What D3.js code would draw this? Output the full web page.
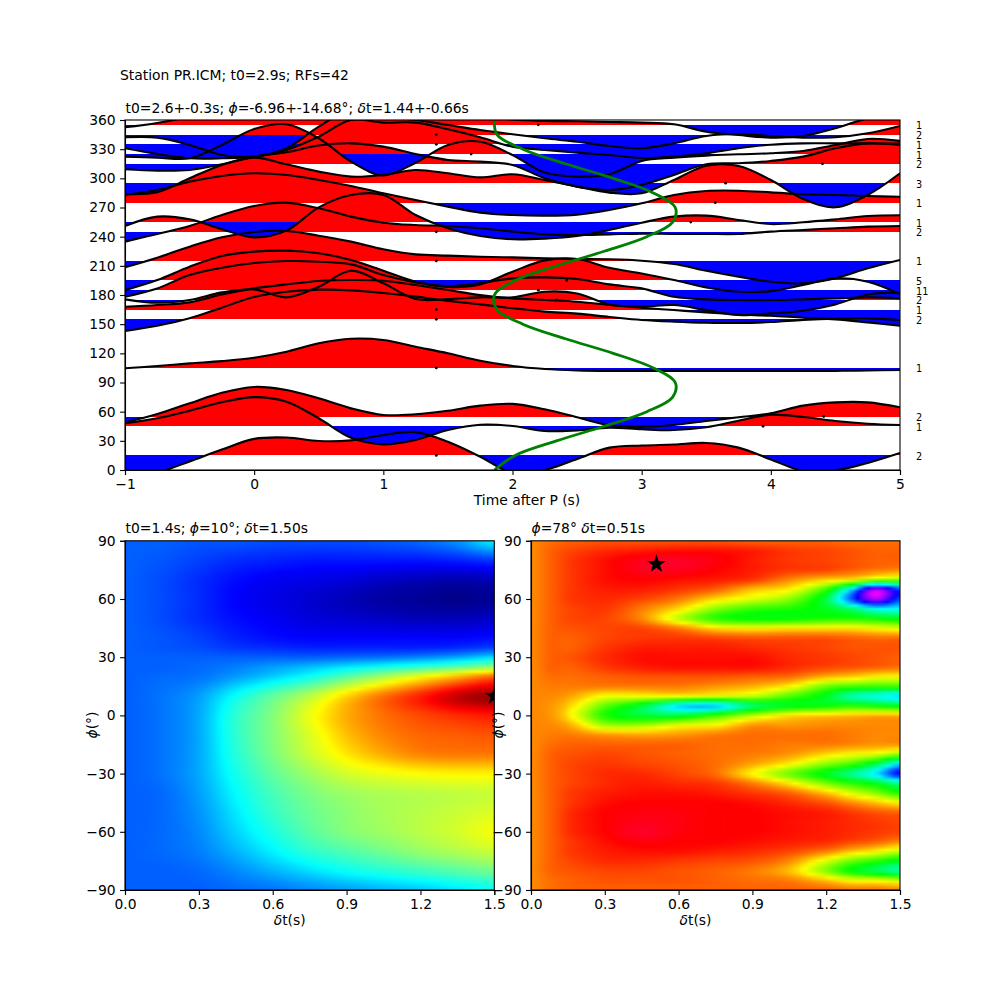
<!DOCTYPE html>
<html lang="en">
<head>
<meta charset="UTF-8">
<title>Station PR.ICM</title>
<style>
  html, body { margin: 0; padding: 0; background: #fff; }
  svg { display: block; }
  text { font-family: "DejaVu Sans", sans-serif; fill: #000; }
  .tick text { font-family: "DejaVu Sans", sans-serif; font-size: 13.89px; }
  .tick line, .domain { stroke: #000; stroke-width: 1.1px; }
</style>
</head>
<body>
<div id="chart"></div>
<script src="https://d3js.org/d3.v7.min.js"></script>
<script>
// ---- top panel data: RF traces, in degrees of back azimuth on the y axis
var times = [-1,-.75,-.5,-.25,0,.25,.5,.75,1,1.25,1.5,1.75,2,2.25,2.5,2.75,3,3.25,3.5,3.75,4,4.25,4.5,4.75,5];
var baselines = [15,45,55,105,155,165,175,185,195,215,245,255,275,295,315,325,335,345,355];
var counts = [2,1,2,1,2,1,2,11,5,1,2,1,1,3,2,1,1,2,1];
var dotTimes = [1.41,3.94,4.41,1.41,1.41,1.41,2.34,2.2,2.42,1.41,1.41,3.38,3.57,3.65,4.4,1.68,1.41,1.41,2.2];
var traces = [
  [-12,-3,8.7,21,32,33.4,29.8,30.5,36,39,29,13.7,-3,0,11.3,23,25.2,26.2,27.8,23,10.8,-1,-.5,7.2,17.5],
  [48,53.2,61,69.6,75,70.3,53.2,33.2,26.4,30.9,41.1,46.6,45.3,40.1,40.8,43.5,41.9,41.1,43.9,50.7,56.9,54.5,50.4,47.6,46.3],
  [49,57.6,68.6,79.5,85.4,82.3,73.7,63.4,56.6,57.3,61,66.2,68,62.4,54.2,46,44.5,46.3,50.4,54.2,58.3,66.2,69.6,69.6,64.5],
  [104.6,107,109.7,112,115.5,121.7,130.3,135,133.7,126.8,120,112.4,107,103.9,102.5,102,102,102,102,102,102,102,102,102.3,103],
  [143,148.4,156,167,178,183.4,185.5,184.8,182,178.3,174,170.4,166.3,162.9,160.8,157.4,154.3,152.6,151.5,151.2,152.2,154.3,155.6,156,154.3],
  [167.9,169.7,172.4,180.6,186.8,190.9,194.4,195.4,194.7,190.2,185.1,179.9,176.5,174.8,173.1,169.7,166.9,164.5,162.1,160,158.7,156.6,154.9,151.8,148.4],
  [175.5,172,174.8,182.7,185.8,177.6,188.5,205,192,175.8,175.8,177.6,177.6,183.4,181.6,170.3,168,169.7,164.5,159.4,161.1,163.8,170.3,180.6,182.4],
  [178.2,186.8,200.5,208,212.9,214.9,214.2,211.5,200.5,193,189.2,192.3,197.1,198.1,196.4,190.9,186.8,178.2,175.5,174.8,174.8,175.5,176.5,177.6,176.5],
  [185,195.4,209.1,220.1,224.6,225.6,222.9,216,205,193.7,188.2,190.9,204,215.6,217,208,202.2,195.4,187.8,183.4,184,190.2,197.1,193.7,181],
  [208.5,218.4,229.7,239.3,244.8,245.8,241,234.9,227,221.8,220.5,219.4,218.7,217.7,217,216.7,215.3,211.9,205,198.9,193.7,192,197.2,207.4,216],
  [234.9,242.8,251,262.3,271.6,275,269.2,260.6,254.4,252,251,248.6,245.2,242.4,241.7,242.4,243.1,242.8,242.8,242.8,245.2,246.9,248.6,250.3,251],
  [251,260.6,257.9,247.6,239.3,246.2,270.2,282.9,282.9,262.3,248.6,240.7,237.3,238,240.7,246.9,254.4,260.6,261.6,257.2,253,254.8,257.8,261.3,262],
  [282.9,288,296.6,302.4,305.2,303.4,298.3,292.1,284.6,277.7,270.9,264.7,262.3,261.6,262.6,267.4,274.3,282.9,287,287.3,285.6,283.6,282.9,281.8,281.1],
  [283.9,285.6,300,313.8,321.3,314.4,306.9,301.8,303.5,308.6,305.2,301,304.2,298.3,291.5,285.3,284.6,298.3,313,312.7,298.3,278.8,270.2,282.9,305.2],
  [309.3,307.9,308.6,314.4,322.3,326.8,333.7,336,332.6,325,318.9,317.2,313.8,300,291.5,288,293.2,303.5,314.4,315.5,317.9,322.3,330.9,336,334.3],
  [322.3,321.3,320.6,334.3,350.8,355.6,341.2,317.2,303,316,334.3,337.7,324,305.9,301.8,304.2,317.9,321.3,323.4,324.7,325.8,328.2,334.3,340.5,338.5],
  [330.9,325,320.6,320.6,322.3,329.2,342.9,360,357.3,357.3,350.4,342.2,332.6,329.2,326.4,324,320.9,322.3,325.7,330.9,334.6,336,336,336,335.7],
  [342.2,341.9,334.3,324,322.3,330.9,353.2,370.3,363.5,360,354.9,349.7,345.3,341.2,337.7,333.3,330.9,336,343.6,345.6,343.6,341.9,342.2,346.3,353.9],
  [352.5,357,363.5,372,380,385,387,386,382,378,372,365,360.5,359,358.7,358,357.3,355.6,348,344.6,341.9,343.6,351.5,361.7,366.9]
];

// green predicted curve, read every 15 degrees
var greenBaz = [0,15,30,45,60,75,90,105,120,135,150,165,180,195,210,225,240,255,270,285,300,315,330,345,360];
var greenTime = [1.86,2.02,2.34,2.71,3.04,3.24,3.26,3.09,2.78,2.41,2.08,1.88,1.86,2.02,2.34,2.71,3.04,3.24,3.26,3.09,2.78,2.41,2.08,1.88,1.86];

// ---- bottom left grid, values are positions on the jet colormap in percent
var leftDt = [0,.15,.3,.45,.6,.75,.9,1.05,1.2,1.35,1.5];
var leftPhi = [90,80,70,60,50,40,35,30,25,20,10,0,-10,-20,-30,-40,-50,-60,-70,-80,-90];
var leftGrid = [
  [20,20,19,19,18,18,18,19,21,25,34],
  [20,19,17,15,14,13,13,13,13,14,16],
  [20,18,15,12,10,9,8,6,5,4,5],
  [20,18,15,11,9,7,5,3,2,1,2],
  [20,18,15,12,10,8,7,6,5,5,6],
  [20,19,17,14,12,11,11,11,11,11,12],
  [20,19,18,16,15,14,14,14,14,15,17],
  [20,20,20,20,20,20,21,22,24,27,32],
  [20,20,21,23,26,29,33,37,41,46,52],
  [20,21,22,26,31,37,46,55,64,72,80],
  [20,22,26,36,46,56,68,78,86,94,98],
  [20,22,27,40,50,62,72,78,82,85,87],
  [20,22,27,40,50,60,70,76,79,80,81],
  [20,22,27,39,49,58,66,72,76,77,77],
  [20,22,27,37,46,53,59,62,64,65,65],
  [20,21,26,35,43,49,53,55,56,57,58],
  [20,21,25,33,41,47,51,54,56,58,60],
  [20,21,24,31,38,45,50,53,56,59,63],
  [20,21,23,28,34,40,44,48,52,55,58],
  [20,20,21,24,28,32,36,39,42,45,48],
  [20,20,20,21,22,24,26,28,30,33,36]
];

// ---- bottom right grid, values are positions on the gist_rainbow colormap in percent
var rightDt = [0,.08,.16,.3,.45,.6,.75,.9,1.05,1.2,1.3,1.4,1.5];
var rightPhi = [90,85,80,75,70,65,60,55,50,45,40,35,30,25,20,15,10,5,0,-5,-10,-15,-20,-25,-30,-35,-40,-45,-50,-55,-60,-65,-70,-75,-80,-85,-90];
var rightGrid = [
  [13,11,10,9,9,9,9,10,10,10,11,11,11],
  [13,10,8,6,5,4,4,5,7,8,9,10,10],
  [13,10,7,4,1,0,2,5,7,8,9,10,10],
  [13,10,7,4,1,1,3,5,7,8,10,12,13],
  [13,10,7,4,3,4,5,7,13,18,21,28,30],
  [13,10,7,5,5,7,10,17,21,36,60,89,72],
  [13,10,7,6,8,12,19,24,30,45,70,89,72],
  [13,10,8,7,12,19,30,36,38,42,48,58,58],
  [13,10,8,8,13,26,37,40,40,38,38,40,42],
  [13,10,9,8,8,12,19,21,20,20,20,22,24],
  [13,10,10,8,7,7,8,9,9,9,10,11,11],
  [13,10,10,7,5,5,5,6,7,8,9,9,9],
  [13,10,9,6,4,4,4,4,6,7,8,9,10],
  [13,10,10,7,5,4,4,4,6,8,9,10,11],
  [13,11,11,10,9,9,9,10,11,16,18,21,22],
  [13,12,12,12,12,12,14,16,21,32,35,36,36],
  [13,13,15,22,22,22,24,26,34,42,52,56,60],
  [13,14,19,33,44,60,62,48,42,40,38,40,42],
  [13,14,21,38,44,44,36,27,20,18,17,16,16],
  [13,13,16,28,28,23,21,14,14,13,13,13,13],
  [13,12,12,14,15,14,12,11,11,11,12,13,13],
  [13,11,10,10,10,10,11,11,12,12,13,14,14],
  [13,10,9,8,9,10,11,12,14,19,22,24,30],
  [13,10,8,7,8,9,11,15,21,30,35,45,60],
  [13,10,8,6,6,8,11,21,32,42,50,60,77],
  [13,10,8,6,5,6,7,12,20,31,37,42,50],
  [13,10,7,5,4,4,5,7,10,17,24,30,38],
  [13,10,7,4,3,3,3,4,6,9,13,17,21],
  [13,10,6,3,2,2,3,3,4,5,7,9,10],
  [13,10,6,3,1,2,3,3,4,5,6,7,8],
  [13,10,6,3,0,2,3,3,4,5,6,7,8],
  [13,10,7,4,2,3,3,4,5,6,8,10,13],
  [13,10,7,5,4,4,5,6,8,12,17,21,26],
  [13,10,8,6,6,7,8,9,13,24,32,37,42],
  [13,10,9,8,8,9,10,12,17,30,40,46,52],
  [13,11,10,9,9,9,10,11,12,17,22,23,26],
  [13,11,10,10,10,10,10,10,10,10,11,11,12]
];

var jet = d3.scaleLinear()
  .domain([0,11,35,64,89,100])
  .range(["#000080","#0000ff","#00ffff","#ffff00","#ff0000","#800000"]).clamp(true);
var rainbow = d3.scaleLinear()
  .domain([0,3,21.5,40,58.6,77,95.4,100])
  .range(["#ff0029","#ff0000","#ffff00","#00ff00","#00ffff","#0000ff","#ff00ff","#ff00bf"]).clamp(true);

// ---- page
var svg = d3.select("#chart").append("svg").attr("width", 1000).attr("height", 1000);

var x = d3.scaleLinear().domain([-1, 5]).range([125, 900]);
var y = d3.scaleLinear().domain([0, 360]).range([470, 120]);

var defs = svg.append("defs");
defs.append("clipPath").attr("id", "topClip").append("rect")
  .attr("x", 125).attr("y", 120).attr("width", 775).attr("height", 350);

svg.append("text").attr("x", 120).attr("y", 80).style("font-size", "13.89px")
  .text("Station PR.ICM; t0=2.9s; RFs=42");
svg.append("text").attr("x", 125.5).attr("y", 113).style("font-size", "13.89px")
  .html('t0=2.6+-0.3s; <tspan font-style="italic">ϕ</tspan>=-6.96+-14.68°; <tspan font-style="italic">δ</tspan>t=1.44+-0.66s');

var plot = svg.append("g").attr("clip-path", "url(#topClip)");
var curve = d3.curveCatmullRom;

// fills first so every line stays on top of them
baselines.forEach(function(base, i) {
  // whole pixel baseline, otherwise the clip edge leaves a hairline seam
  var yBase = Math.round(y(base));
  var area = d3.area()
    .x(function(d, j) { return x(times[j]); })
    .y0(yBase)
    .y1(function(d) { return y(d); })
    .curve(curve);

  defs.append("clipPath").attr("id", "up" + i).append("rect")
    .attr("x", 125).attr("y", 0).attr("width", 775).attr("height", yBase);
  defs.append("clipPath").attr("id", "down" + i).append("rect")
    .attr("x", 125).attr("y", yBase).attr("width", 775).attr("height", 1000);

  plot.append("path").attr("d", area(traces[i])).attr("fill", "#ff0000").attr("clip-path", "url(#up" + i + ")");
  plot.append("path").attr("d", area(traces[i])).attr("fill", "#0000ff").attr("clip-path", "url(#down" + i + ")");
});

var line = d3.line()
  .x(function(d, j) { return x(times[j]); })
  .y(function(d) { return y(d); })
  .curve(curve);

plot.selectAll("path.trace").data(traces).enter().append("path")
  .attr("class", "trace")
  .attr("d", line)
  .attr("fill", "none").attr("stroke", "#000").attr("stroke-width", 2.1);

plot.selectAll("circle").data(baselines).enter().append("circle")
  .attr("cx", function(d, i) { return x(dotTimes[i]); })
  .attr("cy", function(d) { return y(d); })
  .attr("r", 1.4).attr("fill", "#000");

var greenLine = d3.line()
  .x(function(d) { return x(d); })
  .y(function(d, j) { return y(greenBaz[j]); })
  .curve(curve);
plot.append("path").attr("d", greenLine(greenTime))
  .attr("fill", "none").attr("stroke", "#008000").attr("stroke-width", 2.8);

svg.append("g").selectAll("text").data(baselines).enter().append("text")
  .attr("x", 916).attr("y", function(d) { return y(d) + 4.5; })
  .style("font-size", "9.7px")
  .text(function(d, i) { return counts[i]; });

drawFrame(x, y, d3.range(-1, 6), d3.range(0, 361, 30), d3.format("d"));
svg.append("text").attr("x", 527).attr("y", 505).attr("text-anchor", "middle")
  .style("font-size", "13.89px").text("Time after P (s)");

drawGrid(125, 494.3, leftDt, leftPhi, leftGrid, jet, 1.5, 10, "leftClip",
  't0=1.4s; <tspan font-style="italic">ϕ</tspan>=10°; <tspan font-style="italic">δ</tspan>t=1.50s');
drawGrid(531, 900, rightDt, rightPhi, rightGrid, rainbow, .51, 78, "rightClip",
  '<tspan font-style="italic">ϕ</tspan>=78° <tspan font-style="italic">δ</tspan>t=0.51s');

function drawFrame(sx, sy, xTicks, yTicks, xFormat) {
  var h = sy.range()[0];
  var l = sx.range()[0];
  svg.append("g").attr("transform", "translate(0," + h + ")")
    .call(d3.axisBottom(sx).tickValues(xTicks).tickSize(4.9).tickPadding(4.5).tickFormat(xFormat));
  svg.append("g").attr("transform", "translate(" + l + ",0)")
    .call(d3.axisLeft(sy).tickValues(yTicks).tickSize(4.9).tickPadding(4.5).tickFormat(d3.format("d")));
  svg.append("rect")
    .attr("x", l).attr("y", sy.range()[1])
    .attr("width", sx.range()[1] - l).attr("height", h - sy.range()[1])
    .attr("fill", "none").attr("stroke", "#000").attr("stroke-width", 1.1);
}

// Catmull-Rom weights along one axis, index position u between grid nodes
function cubic(a, b, c, d, u) {
  return b + .5 * u * (c - a + u * (2 * a - 5 * b + 4 * c - d + u * (3 * (b - c) + d - a)));
}

// display smoothing of the read grid, same idea as imshow interpolation
function sampleGrid(grid, gx, gy) {
  var n = grid.length, m = grid[0].length;
  var r = Math.min(Math.floor(gy), n - 2), c = Math.min(Math.floor(gx), m - 2);
  var u = gx - c, v = gy - r;
  var vals = [];
  for (var k = -1; k <= 2; k++) {
    var row = grid[Math.max(0, Math.min(n - 1, r + k))];
    vals.push(cubic(row[Math.max(0, c - 1)], row[c], row[c + 1], row[Math.min(m - 1, c + 2)], u));
  }
  return cubic(vals[0], vals[1], vals[2], vals[3], v);
}

function drawGrid(left, right, dts, phis, grid, colors, starDt, starPhi, clipId, title) {
  var sx = d3.scaleLinear().domain([0, 1.5]).range([left, right]);
  var sy = d3.scaleLinear().domain([-90, 90]).range([890, 540.8]);
  var colIndex = d3.scaleLinear().domain(dts).range(d3.range(dts.length));
  var rowIndex = d3.scaleLinear().domain(phis).range(d3.range(phis.length));

  // 100 x 100 blocks, the reference mesh looks about that fine
  var cells = 100;
  var canvas = document.createElement("canvas");
  canvas.width = cells; canvas.height = cells;
  var ctx = canvas.getContext("2d");
  for (var i = 0; i < cells; i++) {
    for (var j = 0; j < cells; j++) {
      var dt = sx.invert(left + (i + .5) * (right - left) / cells);
      var phi = sy.invert(540.8 + (j + .5) * (890 - 540.8) / cells);
      ctx.fillStyle = colors(sampleGrid(grid, colIndex(dt), rowIndex(phi)));
      ctx.fillRect(i, j, 1, 1);
    }
  }

  svg.append("image")
    .attr("x", left).attr("y", 540.8)
    .attr("width", right - left).attr("height", 890 - 540.8)
    .attr("preserveAspectRatio", "none")
    .attr("href", canvas.toDataURL());

  defs.append("clipPath").attr("id", clipId).append("rect")
    .attr("x", left).attr("y", 540.8).attr("width", right - left).attr("height", 890 - 540.8);

  svg.append("g").attr("clip-path", "url(#" + clipId + ")")
    .append("path")
    .attr("transform", "translate(" + sx(starDt) + "," + sy(starPhi) + ")")
    .attr("d", d3.symbol().type(d3.symbolStar).size(110)())
    .attr("fill", "#000");

  drawFrame(sx, sy, d3.range(0, 1.51, .3), d3.range(-90, 91, 30), d3.format(".1f"));

  svg.append("text").attr("x", left + .5).attr("y", 533).style("font-size", "13.89px").html(title);
  // the x label sits left of the panel centre in the reference
  svg.append("text").attr("x", (left + right) / 2 - 20).attr("y", 925).attr("text-anchor", "middle")
    .style("font-size", "13.89px").html('<tspan font-style="italic">δ</tspan>t(s)');
  svg.append("text")
    .attr("transform", "translate(" + (left - 28) + ",725) rotate(-90)")
    .attr("text-anchor", "middle").style("font-size", "13.89px")
    .html('<tspan font-style="italic">ϕ</tspan>(°)');
}
</script>
</body>
</html>
